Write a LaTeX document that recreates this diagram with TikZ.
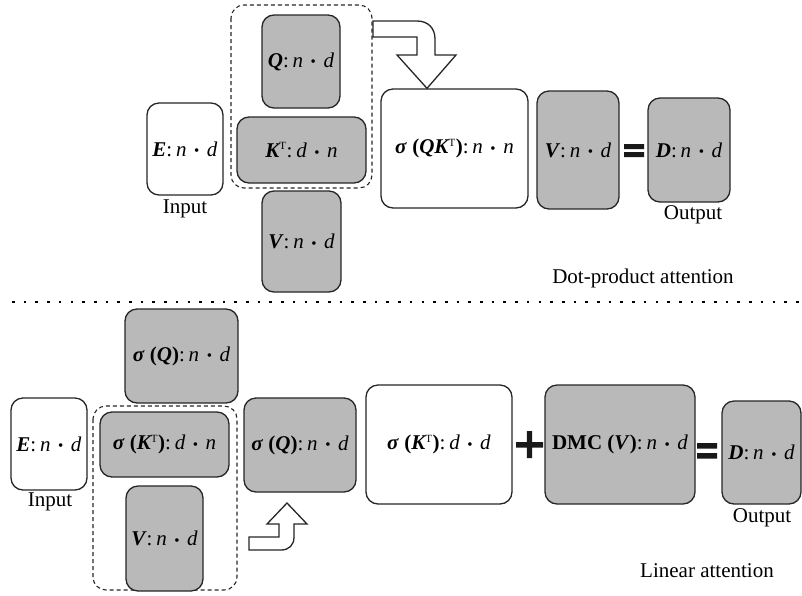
\documentclass[tikz,border=0pt]{standalone}
\usepackage{fontspec}
\setmainfont{Liberation Serif}
\begin{document}
\begin{tikzpicture}[x=1pt,y=-1pt,
  every node/.style={font=\fontsize{21}{25}\selectfont},
  wbox/.style={draw=black!85, line width=1.3pt, fill=white, rounded corners=12pt, inner sep=0pt},
  gbox/.style={wbox, fill=gray!55},
  grp/.style={draw=black!85, line width=1.1pt, dash pattern=on 4pt off 3pt, rounded corners=13pt},
  bigarrow/.style={draw=black!85, line width=1.3pt, fill=white, line join=miter},
  lbl/.style={inner sep=0pt}
]
\useasboundingbox (0,0) rectangle (802,595);
\newcommand\bi[1]{\textbf{\textit{#1}}}
\newcommand\dt{\hspace{0.36em}\raisebox{0.2pt}{\fontsize{15}{15}\selectfont •}\hspace{0.36em}}
\newcommand\bx[7]{\node[#6, minimum width={(#4-#2)*1pt}, minimum height={(#5-#3)*1pt}] (#1) at ({(#2+#4)/2},{(#3+#5)/2}) {#7};}
\newcommand\sT{\textsuperscript{\kern-1pt\fontsize{11}{11}\selectfont T}}
\newcommand\cl{:\hspace{0.18em}}

% ---------- top: dot-product attention ----------
\draw[grp] (231,5) rectangle (372,188);
\bx{E1}{147}{103}{223}{195}{wbox}{\bi{E}\cl\textit{n}\dt\textit{d}}
\bx{Q1}{262}{15}{340}{108}{gbox}{\bi{Q}\cl\textit{n}\dt\textit{d}}
\bx{K1}{237}{117}{366}{183}{gbox}{\bi{K}\sT\cl\textit{d}\dt\textit{n}}
\bx{V1}{262}{191}{341}{292}{gbox}{\bi{V}\cl\textit{n}\dt\textit{d}}
\bx{S1}{381}{89}{528}{208}{wbox}{\bi{σ} \textbf{(}\bi{QK}\sT\textbf{)}\cl\textit{n}\dt\textit{n}}
\bx{V2}{537}{91}{619}{209}{gbox}{\bi{V}\cl\textit{n}\dt\textit{d}}
\bx{D1}{648}{98}{730}{202}{gbox}{\bi{D}\cl\textit{n}\dt\textit{d}}
\node[lbl] (in1) at (185,209) {Input};
\node[lbl] (out1) at (693,215) {Output};
\node[lbl] (t1) at (643,278) {Dot-product attention};
\fill[black!90] (624,144) rectangle (644,149) (624,152) rectangle (644,157);

% arrow from group to sigma(QK^T)
\draw[bigarrow] (373,37) -- (373,21) -- (417,21) .. controls (428,21) and (435,28) .. (435,39)
  -- (435,55) -- (456,55) -- (S1.north -| 427,0) -- (397,55) -- (417,55) -- (417,37) -- cycle;

% ---------- separator ----------
\coordinate (sepL) at (12,302);
\coordinate (sepR) at (802,302);
\draw[line width=2.6pt, dash pattern=on 2.6pt off 9.1pt] (sepL) -- (sepR);

% ---------- bottom: linear attention ----------
\draw[grp] (93,406) rectangle (237,590);
\bx{SQ}{125}{309}{238}{403}{gbox}{\bi{σ} \textbf{(}\bi{Q}\textbf{)}\cl\textit{n}\dt\textit{d}}
\bx{E2}{11}{398}{87}{490}{wbox}{\bi{E}\cl\textit{n}\dt\textit{d}}
\bx{SK}{100}{412}{229}{477}{gbox}{\bi{σ} \textbf{(}\bi{K}\sT\textbf{)}\cl\textit{d}\dt\textit{n}}
\bx{V3}{126}{486}{203}{591}{gbox}{\bi{V}\cl\textit{n}\dt\textit{d}}
\bx{SQ2}{244}{398}{356}{492}{gbox}{\bi{σ} \textbf{(}\bi{Q}\textbf{)}\cl\textit{n}\dt\textit{d}}
\bx{SKd}{366}{385}{512}{504}{wbox}{\bi{σ} \textbf{(}\bi{K}\sT\textbf{)}\cl\textit{d}\dt\textit{d}}
\bx{DMC}{545}{385}{695}{504}{gbox}{\textbf{DMC (}\bi{V}\textbf{)}\cl\textit{n}\dt\textit{d}}
\bx{D2}{722}{401}{801}{504}{gbox}{\bi{D}\cl\textit{n}\dt\textit{d}}
\node[lbl] (in2) at (50,502) {Input};
\node[lbl] (out2) at (762,518) {Output};
\node[lbl] (t2) at (707,571) {Linear attention};
\fill[black!90] (697,443) rectangle (717,448.5) (697,453) rectangle (717,458.5);
\fill[black!90] (516,442) rectangle (543,447.5) (526.8,431) rectangle (532.2,458);

% arrow up to sigma(Q)
\draw[bigarrow] (249,550) -- (281,550) .. controls (289,550) and (294,545) .. (294,537)
  -- (294,524) -- (307,524) -- (287,503) -- (267,524) -- (279,524) -- (279,537) -- (249,537) -- cycle;
\end{tikzpicture}
\end{document}
